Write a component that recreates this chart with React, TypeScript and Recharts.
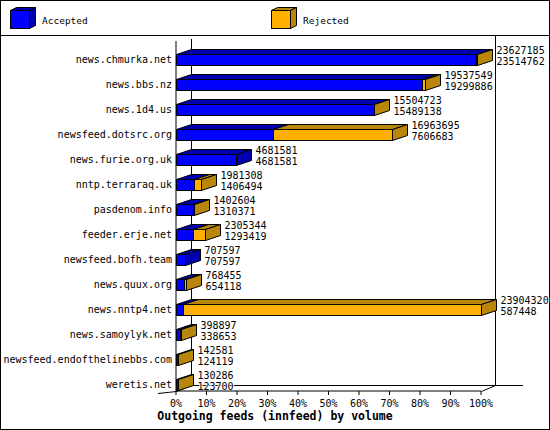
import React from 'react'
import { BarChart, Bar, XAxis, YAxis } from 'recharts'

const hosts = [
  'news.chmurka.net',
  'news.bbs.nz',
  'news.1d4.us',
  'newsfeed.dotsrc.org',
  'news.furie.org.uk',
  'nntp.terraraq.uk',
  'pasdenom.info',
  'feeder.erje.net',
  'newsfeed.bofh.team',
  'news.quux.org',
  'news.nntp4.net',
  'news.samoylyk.net',
  'newsfeed.endofthelinebbs.com',
  'weretis.net',
]
const totals = [
  23627185, 19537549, 15504723, 16963695, 4681581, 1981308, 1402604,
  2305344, 707597, 768455, 23904320, 398897, 142581, 130286,
]
const accepted = [
  23514762, 19299886, 15489138, 7606683, 4681581, 1406494, 1310371,
  1293419, 707597, 654118, 587448, 338653, 124119, 123700,
]
const seriesNames = ['Accepted', 'Rejected']
const pctTicks = [0, 10, 20, 30, 40, 50, 60, 70, 80, 90, 100]
const title = 'Outgoing feeds (innfeed) by volume'

const maxTotal = Math.max(...totals)
const data = hosts.map((host, i) => ({
  host,
  accepted: accepted[i],
  rejected: totals[i] - accepted[i],
  total: totals[i],
}))

const W = 550
const H = 430
const DX = 15
const DY = 5
const SHIFT = 6
const FONT = '"DejaVu Sans Mono", monospace'
const BLUE = '#0000ff'
const BLUE_DARK = '#0000b0'
const ORANGE = '#ffb000'
const ORANGE_DARK = '#b8860b'

const snap = (v: number) => Math.round(v) + 0.5

// front face + top face of one stacked segment
function segment(x0: number, x1: number, y0: number, y1: number, front: string, dark: string) {
  const top = `${x0},${y0} ${x1},${y0} ${x1 + DX},${y0 - DY} ${x0 + DX},${y0 - DY}`
  return (
    <g>
      <polygon points={top} fill={dark} stroke="#000" />
      <rect x={x0} y={y0} width={Math.max(0, x1 - x0)} height={y1 - y0} fill={front} stroke="#000" />
    </g>
  )
}

// side face at the end of the bar and the two value labels
function cap(x1: number, y0: number, y1: number, dark: string, payload: any) {
  const side = `${x1},${y0} ${x1 + DX},${y0 - DY} ${x1 + DX},${y1 - DY} ${x1},${y1}`
  const tx = x1 + DX + 4
  const txt = { fontFamily: FONT, fontSize: 10, fill: '#000', stroke: '#fff', strokeWidth: 2, paintOrder: 'stroke' as const }
  return (
    <g>
      <polygon points={side} fill={dark} stroke="#000" />
      <text x={tx} y={y0 - 1} {...txt}>{payload.total}</text>
      <text x={tx} y={y0 + 10.5} {...txt}>{payload.accepted}</text>
    </g>
  )
}

const AcceptedShape = (p: any) => {
  const x0 = snap(p.x)
  const x1 = snap(p.x + p.width)
  const y0 = snap(p.y + SHIFT)
  const y1 = y0 + Math.round(p.height)
  return (
    <g>
      {segment(x0, x1, y0, y1, BLUE, BLUE_DARK)}
      {p.payload.rejected === 0 && cap(x1, y0, y1, BLUE_DARK, p.payload)}
    </g>
  )
}

const RejectedShape = (p: any) => {
  if (!p.payload || p.payload.rejected === 0) return <g />
  const x0 = snap(p.x)
  const x1 = snap(p.x + p.width)
  const y0 = snap(p.y + SHIFT)
  const y1 = y0 + Math.round(p.height)
  return (
    <g>
      {segment(x0, x1, y0, y1, ORANGE, ORANGE_DARK)}
      {cap(x1, y0, y1, ORANGE_DARK, p.payload)}
    </g>
  )
}

const HostTick = (p: any) => (
  <text x={p.x} y={p.y + SHIFT} dy="0.35em" textAnchor="end" fontFamily={FONT} fontSize={10} fill="#000">
    {p.payload.value}
  </text>
)

function LegendCube({ x, front, dark }: { x: number; front: string; dark: string }) {
  const y = 10.5
  const w = 19
  const h = 18
  return (
    <g stroke="#000">
      <polygon points={`${x},${y} ${x + w},${y} ${x + w + 6},${y - 3} ${x + 6},${y - 3}`} fill={dark} />
      <polygon points={`${x + w},${y} ${x + w + 6},${y - 3} ${x + w + 6},${y + h - 3} ${x + w},${y + h}`} fill={dark} />
      <rect x={x} y={y} width={w} height={h} fill={front} />
    </g>
  )
}

function Frame() {
  const left = 176.5
  const right = 481.5
  const floor = 391.5
  return (
    <svg width={W} height={H} style={{ position: 'absolute', left: 0, top: 0 }}>
      <rect x={0.5} y={0.5} width={W - 1} height={H - 1} fill="#fff" stroke="#000" />
      <line x1={0} y1={35.5} x2={W} y2={35.5} stroke="#000" />
      <LegendCube x={10.5} front={BLUE} dark={BLUE_DARK} />
      <text x={42} y={24} fontFamily={FONT} fontSize={9.5} fill="#000">{seriesNames[0]}</text>
      <LegendCube x={271.5} front={ORANGE} dark={ORANGE_DARK} />
      <text x={303} y={24} fontFamily={FONT} fontSize={9.5} fill="#000">{seriesNames[1]}</text>
      <g stroke="#000" fill="none">
        <line x1={left + DX} y1={39} x2={left + DX} y2={floor - 6} />
        <line x1={right + 14} y1={35} x2={right + 14} y2={floor - 6} />
        <line x1={left + DX} y1={floor - 6} x2={523} y2={floor - 6} />
        <line x1={right} y1={floor} x2={right + 14} y2={floor - 6} />
        <line x1={left} y1={floor} x2={left + DX} y2={floor - 6} />
        <line x1={158} y1={floor + 2} x2={left} y2={floor} />
      </g>
      <text x={275} y={419.5} textAnchor="middle" fontFamily={FONT} fontSize={11.5} fontWeight="bold" fill="#000">
        {title}
      </text>
    </svg>
  )
}

export default function App() {
  return (
    <div style={{ position: 'absolute', left: 0, top: 0, width: W, height: H }}>
      <Frame />
      <div style={{ position: 'absolute', left: 0, top: 0 }}>
        <BarChart
          width={W}
          height={H}
          data={data}
          layout="vertical"
          margin={{ top: 41, right: 69, bottom: 9, left: 0 }}
          barSize={11}
        >
          <XAxis
            type="number"
            domain={[0, maxTotal]}
            ticks={pctTicks.map((p) => (p / 100) * maxTotal)}
            tickFormatter={(v: number) => `${Math.round((v / maxTotal) * 100)}%`}
            height={30}
            stroke="#000"
            tickSize={4}
            tickMargin={5}
            tick={{ fontSize: 10, fontFamily: FONT, fill: '#000' }}
          />
          <YAxis
            type="category"
            dataKey="host"
            width={176}
            stroke="#000"
            tickLine={false}
            tickSize={0}
            tickMargin={4}
            interval={0}
            tick={HostTick}
          />
          <Bar dataKey="accepted" stackId="a" name={seriesNames[0]} shape={AcceptedShape} isAnimationActive={false} />
          <Bar dataKey="rejected" stackId="a" name={seriesNames[1]} shape={RejectedShape} isAnimationActive={false} />
        </BarChart>
      </div>
    </div>
  )
}
